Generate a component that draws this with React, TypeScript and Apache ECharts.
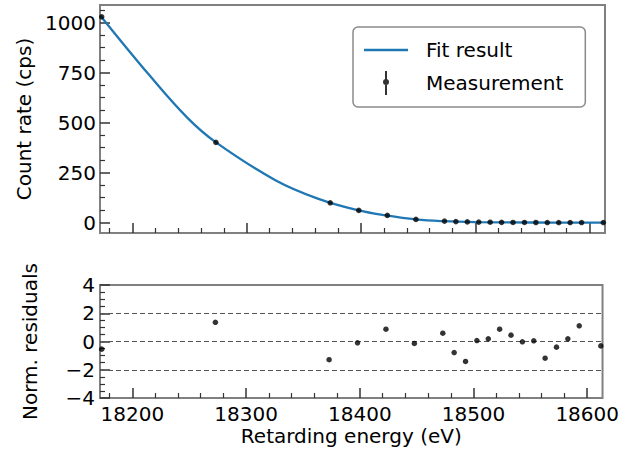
import React, { useEffect, useRef } from "react";
import * as echarts from "echarts";

// ---- data ----
const measEnergy = [18173, 18273, 18373, 18398, 18423, 18448, 18473, 18483, 18493, 18503, 18513, 18523, 18533, 18543, 18553, 18563, 18573, 18583, 18593, 18612];
const measRate = [1029, 401, 99, 61, 36, 16, 7.5, 5, 3.5, 2.5, 1.8, 1.2, 0.9, 0.7, 0.5, 0.4, 0.3, 0.3, 0.3, 0.2];
const residuals = [-0.54, 1.36, -1.29, -0.09, 0.87, -0.14, 0.59, -0.78, -1.41, 0.07, 0.19, 0.87, 0.45, -0.02, 0.05, -1.18, -0.4, 0.19, 1.11, -0.31];

const fitEnergy = [18171.5, 18215, 18248.5, 18273, 18325, 18364, 18398, 18422, 18448, 18472, 18500, 18550, 18613.5];
const fitRate = [1037, 735, 521, 401, 212, 116, 61, 36, 16, 7, 2.5, 0.5, 0.2];

const xMajorTicks = [18200, 18300, 18400, 18500, 18600];
const xMinorTicks = [18180, 18220, 18240, 18260, 18280, 18320, 18340, 18360, 18380, 18420, 18440, 18460, 18480, 18520, 18540, 18560, 18580];
const rateMajorTicks = [0, 250, 500, 750, 1000];
const rateMinorTicks = [62.5, 125, 187.5, 312.5, 375, 437.5, 562.5, 625, 687.5, 812.5, 875, 937.5, 1062.5];
const residMajorTicks = [-4, -2, 0, 2, 4];
const residMinorTicks = [-3.5, -3, -2.5, -1.5, -1, -0.5, 0.5, 1, 1.5, 2.5, 3, 3.5];
const residGuides = [-2, 0, 2];

const X_MIN = 18171.5;
const X_MAX = 18613.5;
const RATE_MIN = -52;
const RATE_MAX = 1088;
const RESID_MIN = -4;
const RESID_MAX = 4;

const FONT = "DejaVu Sans";
const TICK_COLOR = "#333";
const fmt = (v: number) => String(v).replace("-", "\u2212");

function majorAxis(extra: any) {
  return {
    type: "value",
    axisLine: { show: false, onZero: false },
    splitLine: { show: false },
    ...extra,
  };
}
function minorAxis(extra: any, ticks: number[]) {
  return {
    type: "value",
    axisLine: { show: false, onZero: false },
    splitLine: { show: false },
    axisLabel: { show: false },
    axisTick: { show: true, inside: true, length: 5, customValues: ticks, lineStyle: { color: TICK_COLOR, width: 1.2 } },
    ...extra,
  };
}
function majorTick(ticks: number[]) {
  return { show: true, inside: true, length: 10, customValues: ticks, lineStyle: { color: TICK_COLOR, width: 1.5 } };
}

const labelStyle = { fontFamily: FONT, fontSize: 20, color: "#000" };

export default function App() {
  const ref = useRef<HTMLDivElement>(null);
  useEffect(() => {
    const chart = echarts.init(ref.current!, null, { renderer: "svg" });
    const option: any = {
      animation: false,
      backgroundColor: "#fff",
      grid: [
        { left: 100, top: 5, width: 505, height: 228, show: true, borderColor: "#808080", borderWidth: 2, backgroundColor: "transparent" },
        { left: 100, top: 285, width: 505, height: 113, show: true, borderColor: "#808080", borderWidth: 2, backgroundColor: "transparent" },
      ],
      xAxis: [
        majorAxis({
          gridIndex: 0, position: "bottom", min: X_MIN, max: X_MAX,
          axisLabel: { show: false },
          axisTick: majorTick(xMajorTicks),
        }),
        minorAxis({ gridIndex: 0, position: "bottom", min: X_MIN, max: X_MAX }, xMinorTicks),
        majorAxis({
          gridIndex: 1, position: "bottom", min: X_MIN, max: X_MAX,
          name: "Retarding energy (eV)", nameLocation: "middle", nameGap: 28,
          nameTextStyle: labelStyle,
          axisLabel: { show: true, margin: 6, customValues: xMajorTicks, formatter: fmt, ...labelStyle },
          axisTick: majorTick(xMajorTicks),
        }),
        minorAxis({ gridIndex: 1, position: "bottom", min: X_MIN, max: X_MAX }, xMinorTicks),
      ],
      yAxis: [
        majorAxis({
          gridIndex: 0, position: "left", min: RATE_MIN, max: RATE_MAX,
          name: "Count rate (cps)", nameLocation: "middle", nameGap: 60, nameRotate: 90,
          nameTextStyle: labelStyle,
          axisLabel: { show: true, margin: 4, customValues: rateMajorTicks, formatter: fmt, ...labelStyle },
          axisTick: majorTick(rateMajorTicks),
        }),
        minorAxis({ gridIndex: 0, position: "left", min: RATE_MIN, max: RATE_MAX }, rateMinorTicks),
        majorAxis({
          gridIndex: 1, position: "left", min: RESID_MIN, max: RESID_MAX,
          name: "Norm. residuals", nameLocation: "middle", nameGap: 60, nameRotate: 90,
          nameTextStyle: labelStyle,
          axisLabel: { show: true, margin: 5, customValues: residMajorTicks, formatter: fmt, ...labelStyle },
          axisTick: majorTick(residMajorTicks),
        }),
        minorAxis({ gridIndex: 1, position: "left", min: RESID_MIN, max: RESID_MAX }, residMinorTicks),
      ],
      legend: {
        orient: "vertical",
        left: 353,
        top: 27,
        padding: [13, 22, 12, 11],
        itemWidth: 44,
        itemHeight: 24,
        itemGap: 11,
        selectedMode: false,
        backgroundColor: "#fff",
        borderColor: "#8a8a8a",
        borderWidth: 1.5,
        borderRadius: 5,
        textStyle: { ...labelStyle, padding: [0, 0, 0, 13] },
        data: [
          { name: "Fit result", icon: "path://M0,0H44V2.3H0Z" },
          { name: "Measurement", icon: "path://M2,0H4V24H2Z M0,11A3,3 0 1,1 6,11A3,3 0 1,1 0,11Z" },
        ],
      },
      series: [
        {
          name: "Fit result",
          type: "line",
          xAxisIndex: 0,
          yAxisIndex: 0,
          data: fitEnergy.map((e, i) => [e, fitRate[i]]),
          smooth: 0.4,
          symbol: "none",
          showSymbol: false,
          lineStyle: { color: "#1f77b4", width: 2.3 },
          itemStyle: { color: "#1f77b4" },
          z: 2,
        },
        {
          name: "Measurement",
          type: "scatter",
          xAxisIndex: 0,
          yAxisIndex: 0,
          data: measEnergy.map((e, i) => [e, measRate[i]]),
          symbol: "circle",
          symbolSize: 5.5,
          itemStyle: { color: "#000" },
          z: 3,
        },
        {
          name: "Residuals",
          type: "scatter",
          xAxisIndex: 2,
          yAxisIndex: 2,
          data: measEnergy.map((e, i) => [e, residuals[i]]),
          symbol: "circle",
          symbolSize: 5.5,
          itemStyle: { color: "#000" },
          z: 3,
          markLine: {
            silent: true,
            symbol: ["none", "none"],
            label: { show: false },
            lineStyle: { color: "#555", width: 1.2, type: [5, 3] },
            data: residGuides.map((v) => ({ yAxis: v })),
            z: 1,
          },
        },
      ],
    };
    chart.setOption(option);
    return () => chart.dispose();
  }, []);
  return <div ref={ref} style={{ position: "fixed", left: 0, top: 0, width: 622, height: 453 }} />;
}
